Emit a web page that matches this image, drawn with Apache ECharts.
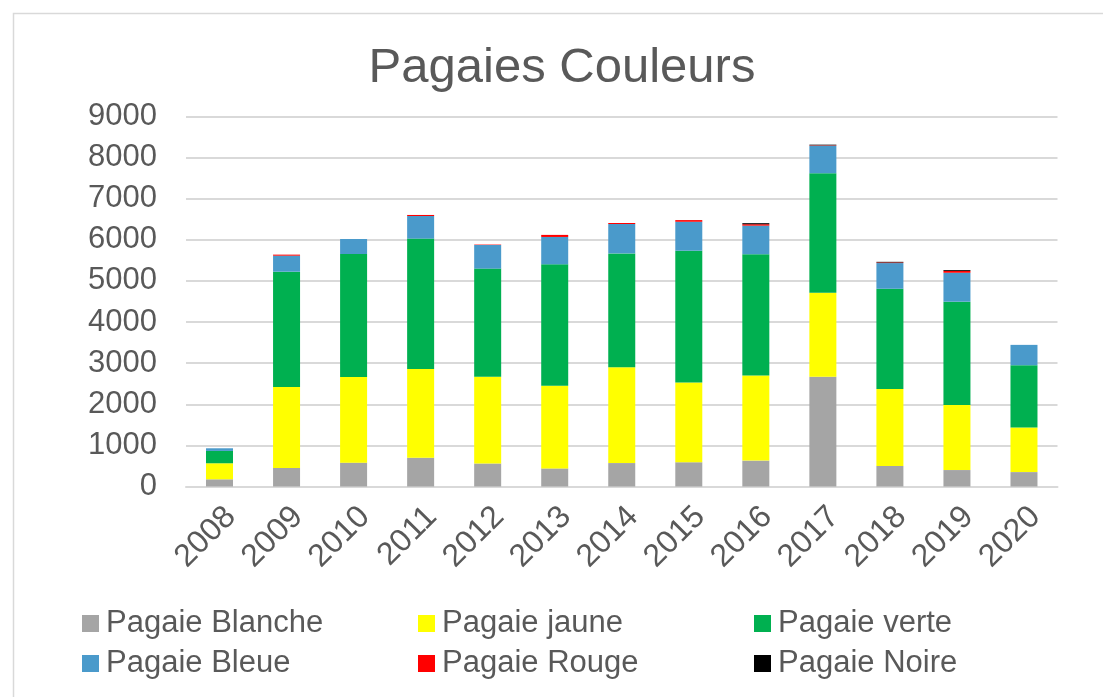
<!DOCTYPE html>
<html>
<head>
<meta charset="utf-8">
<script src="https://cdn.jsdelivr.net/npm/echarts@6/dist/echarts.min.js"></script>
<style>
  html, body { margin: 0; padding: 0; background: #fff; }
  #chart { width: 1103px; height: 697px; }
</style>
</head>
<body>
<div id="chart"></div>
<script>
// données
var years = ['2008', '2009', '2010', '2011', '2012', '2013', '2014', '2015', '2016', '2017', '2018', '2019', '2020'];
var blanche = [175, 450, 580, 700, 560, 440, 570, 590, 630, 2670, 500, 400, 350];
var jaune   = [390, 1970, 2085, 2160, 2110, 2010, 2330, 1940, 2070, 2045, 1870, 1580, 1085];
var verte   = [300, 2805, 2990, 3170, 2630, 2955, 2770, 3205, 2950, 2905, 2440, 2515, 1515];
var bleue   = [65, 390, 365, 550, 575, 665, 715, 705, 695, 670, 625, 705, 495];
var rouge   = [0, 25, 0, 25, 10, 50, 25, 40, 35, 10, 15, 45, 0];
var noire   = [0, 0, 0, 0, 0, 0, 0, 0, 25, 15, 15, 20, 0];
var yTicks  = [0, 1000, 2000, 3000, 4000, 5000, 6000, 7000, 8000, 9000];

var font = "'Liberation Sans', Arial, sans-serif";
var txt = '#595959';

var chart = echarts.init(document.getElementById('chart'));

function serie(name, data, color) {
  return {
    name: name,
    type: 'bar',
    stack: 'total',
    barWidth: 27,
    itemStyle: { color: color },
    emphasis: { disabled: true },
    data: data
  };
}

function legendCol(names, left) {
  return {
    data: names,
    orient: 'vertical',
    left: left,
    top: 608,
    padding: 0,
    icon: 'rect',
    itemWidth: 17,
    itemHeight: 17,
    itemGap: 9,
    selectedMode: false,
    textStyle: { fontFamily: font, fontSize: 31, lineHeight: 31, color: txt, padding: [0, 0, 0, 2] }
  };
}

var option = {
  animation: false,
  backgroundColor: '#fff',
  graphic: [{
    type: 'rect',
    shape: { x: 13.5, y: 13.5, width: 1200, height: 1000 },
    style: { fill: 'none', stroke: '#d9d9d9', lineWidth: 1.5 },
    silent: true
  }],
  title: {
    text: 'Pagaies Couleurs',
    left: 557,
    textAlign: 'center',
    top: 39,
    textStyle: { fontFamily: font, fontSize: 49, fontWeight: 'normal', color: txt }
  },
  legend: [
    legendCol(['Pagaie Blanche', 'Pagaie Bleue'], 82),
    legendCol(['Pagaie jaune', 'Pagaie Rouge'], 418),
    legendCol(['Pagaie verte', 'Pagaie Noire'], 754)
  ],
  grid: { left: 186, right: 45.5, top: 116.5, bottom: 210.5, containLabel: false },
  xAxis: {
    type: 'category',
    data: years,
    axisLine: { lineStyle: { color: '#d9d9d9', width: 2 } },
    axisTick: { show: false },
    axisLabel: { rotate: 45, margin: 14, verticalAlign: 'top', fontFamily: font, fontSize: 32, color: txt }
  },
  yAxis: {
    type: 'value',
    min: yTicks[0],
    max: yTicks[yTicks.length - 1],
    interval: 1000,
    axisLine: { show: false },
    axisTick: { show: false },
    splitLine: { lineStyle: { color: '#d9d9d9', width: 2 } },
    axisLabel: {
      margin: 29, fontFamily: font, fontSize: 31, color: txt,
      formatter: function (v) { return String(v); }
    }
  },
  series: [
    serie('Pagaie Blanche', blanche, '#a5a5a5'),
    serie('Pagaie jaune', jaune, '#ffff00'),
    serie('Pagaie verte', verte, '#00b050'),
    serie('Pagaie Bleue', bleue, '#4a9acb'),
    serie('Pagaie Rouge', rouge, '#ff0000'),
    serie('Pagaie Noire', noire, '#000000')
  ]
};

chart.setOption(option);
</script>
</body>
</html>
